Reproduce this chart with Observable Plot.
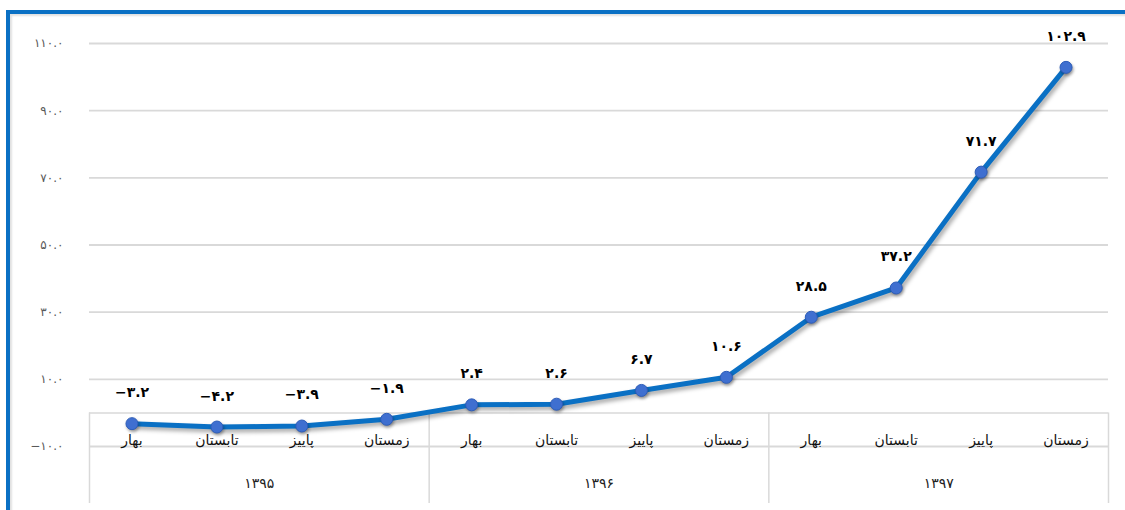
<!DOCTYPE html>
<html><head><meta charset="utf-8">
<script src="https://cdn.jsdelivr.net/npm/d3@7"></script>
<script src="https://cdn.jsdelivr.net/npm/@observablehq/plot@0.6"></script>
<style>
body{margin:0;background:#fff;}
#wrap{position:relative;width:1125px;height:510px;overflow:hidden;}
#frame{position:absolute;left:6px;top:10px;width:1200px;height:600px;border-top:4px solid #0a70c4;border-left:4px solid #0a70c4;box-shadow: inset 2px 2px 2px rgba(0,0,0,0.12);pointer-events:none;}
#chart svg g[aria-label="line"] path{filter:drop-shadow(2px 3px 2px rgba(0,0,0,0.35));}
#chart svg g[aria-label="dot"] circle{filter:drop-shadow(1px 2px 1.5px rgba(0,0,0,0.35));}
</style></head><body>
<div id="wrap"><div id="chart"></div><div id="frame"></div></div>
<script>
const years = ["۱۳۹۵","۱۳۹۶","۱۳۹۷"];
const seasons = ["بهار","تابستان","پاییز","زمستان"];
const values = [-3.2,-4.2,-3.9,-1.9,2.4,2.6,6.7,10.6,28.5,37.2,71.7,102.9];
const yTicks = [-10,10,30,50,70,90,110];

const faDigits = "۰۱۲۳۴۵۶۷۸۹";
const fa = s => String(s).replace(/\d/g, d => faDigits[d]);
const fmt = v => (v < 0 ? "\u2212" : "") + fa(Math.abs(v).toFixed(1));

const rows = values.map((v, i) => ({i, v, season: seasons[i % 4], year: years[Math.floor(i / 4)]}));
const yearRows = years.map((y, k) => ({x: k * seasons.length + (seasons.length - 1) / 2, year: y}));
const dividers = d3.range(years.length + 1).map(k => k * seasons.length - 0.5);

const chart = Plot.plot({
  width: 1125,
  height: 510,
  marginLeft: 89,
  marginRight: 17,
  marginTop: 43,
  marginBottom: 64,
  style: {fontFamily: "DejaVu Sans, sans-serif", fontSize: "12px", color: "#595959", background: "transparent", overflow: "visible"},
  x: {type: "linear", domain: [-0.5, values.length - 0.5], axis: null},
  y: {domain: [-10, 110], ticks: yTicks, tickFormat: fmt, tickSize: 0, tickPadding: 26, label: null},
  marks: [
    Plot.ruleY(yTicks, {stroke: "#d9d9d9", strokeWidth: 1.8}),
    Plot.ruleY([0], {stroke: "#d9d9d9", strokeWidth: 1.5}),
    Plot.ruleX(dividers, {x: d => d, y1: 0, y2: -10, insetBottom: -57, stroke: "#d9d9d9", strokeWidth: 1.5}),
    Plot.text(rows, {x: "i", text: "season", frameAnchor: "bottom", dy: -2, fontSize: 14, fill: "#111"}),
    Plot.text(yearRows, {x: "x", text: "year", frameAnchor: "bottom", dy: 41, fontSize: 14, fill: "#222"}),
    Plot.line(rows, {x: "i", y: "v", stroke: "#0a70c4", strokeWidth: 5}),
    Plot.dot(rows, {x: "i", y: "v", r: 6, fill: "#3f6fd0", stroke: "#2c5cb8", strokeWidth: 1}),
    Plot.text(rows, {x: "i", y: "v", text: d => fmt(d.v), dy: -31, fontSize: 14, fontWeight: "bold", fill: "#000"})
  ]
});
document.getElementById("chart").appendChild(chart);
</script>
</body></html>
